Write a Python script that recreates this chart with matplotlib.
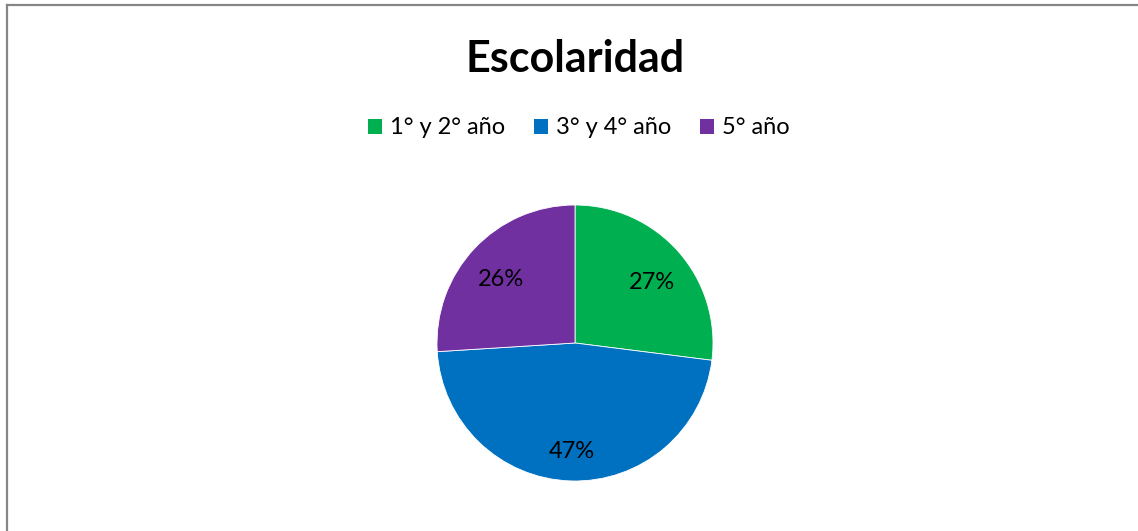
import matplotlib
matplotlib.use("Agg")
from matplotlib import pyplot as plt
from matplotlib.patches import Patch
from matplotlib.lines import Line2D

plt.rcParams['font.family'] = ['Lato', 'DejaVu Sans']

labels = ["1° y 2° año", "3° y 4° año", "5° año"]
values = [27, 47, 26]
colors = ["#00B050", "#0070C0", "#7030A0"]

W, H = 1138, 531
fig = plt.figure(figsize=(W / 100, H / 100), dpi=100)

# pie axes: centre ~ (575, 343) px, radius ~ 138 px
cx, cy, r = 575, 343, 138
ax = fig.add_axes([(cx - r) / W, (H - cy - r) / H, 2 * r / W, 2 * r / H])
wedges, texts, autotexts = ax.pie(values, colors=colors, startangle=90,
		counterclock=False, autopct='%1.0f%%', pctdistance=0.74,
		wedgeprops={'edgecolor': 'white', 'linewidth': 0.6},
		textprops={'fontsize': 17, 'color': 'black'})
ax.set_xlim(-1, 1)
ax.set_ylim(-1, 1)
# excel puts the labels a little lower than the plain radial spot
for t in autotexts:
	x, y = t.get_position()
	t.set_position((x, y - 0.05))

fig.text(cx / W, 1 - 72 / H, "Escolaridad", ha='center', va='baseline',
		fontsize=31, fontweight='bold')

handles = [Patch(facecolor=c, edgecolor='none') for c in colors]
fig.legend(handles, labels, loc='center', bbox_to_anchor=(579 / W, 1 - 128 / H),
		ncol=3, frameon=False, fontsize=17, handlelength=0.6, handleheight=0.6,
		handletextpad=0.35, columnspacing=1.2, borderpad=0)

# chart border (only top/left visible in the crop)
fig.add_artist(Line2D([7 / W, 7 / W], [0, 1 - 4.5 / H], transform=fig.transFigure,
		color='#868686', linewidth=1.6))
fig.add_artist(Line2D([7 / W, 1], [1 - 4.5 / H, 1 - 4.5 / H], transform=fig.transFigure,
		color='#868686', linewidth=1.6))

fig.savefig("out.png", dpi=100)
